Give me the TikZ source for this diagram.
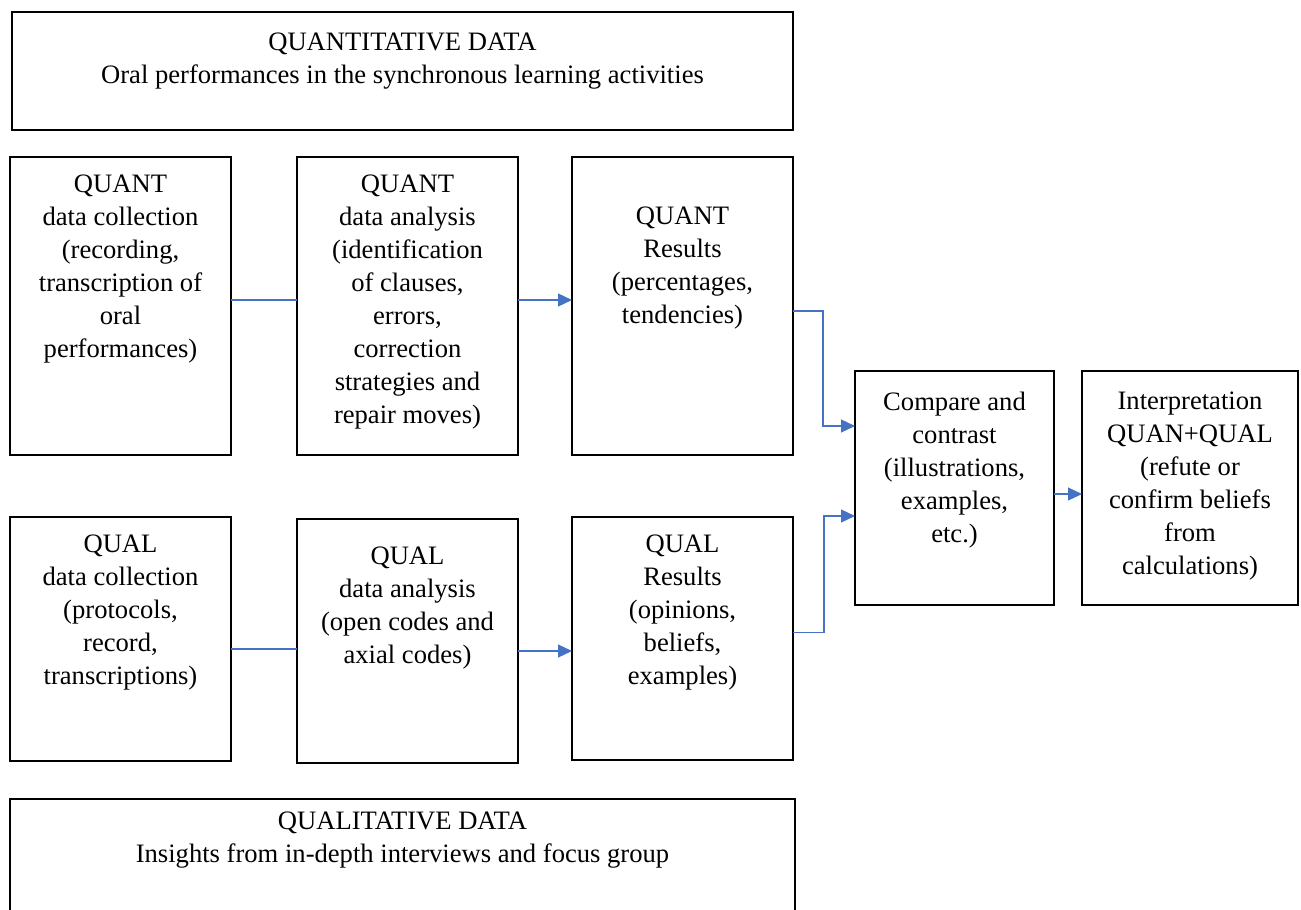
\documentclass[tikz,border=0pt]{standalone}
\usepackage{fontspec}
\setmainfont{Liberation Serif}
\usetikzlibrary{arrows.meta, positioning}
\definecolor{linkblue}{RGB}{68,114,196}

\begin{document}
\begin{tikzpicture}[
  x=0.5pt, y=-0.5pt,
  node distance = 31pt and 33pt,
  box/.style  = {rectangle, draw=black, line width=1.3pt, inner sep=0pt, outer sep=0pt,
                 minimum width=110.5pt, minimum height=149pt},
  txt/.style  = {anchor=north, align=center, inner sep=0pt,
                 font=\fontsize{13.3}{16.5}\selectfont},
  link/.style = {draw=linkblue, line width=0.6pt},
  arr/.style  = {link, -{Triangle[length=7pt, width=6.5pt]}}
]
\useasboundingbox (0,0) rectangle (1301,910);

% Data strands
\node[box, anchor=north west, minimum width=390.5pt, minimum height=59pt,
  label={[txt, yshift=-10.1pt]north:{QUANTITATIVE DATA\\Oral performances in the synchronous learning activities}}]
  (quantdata) at (12,12) {};
\node[box, anchor=north west, minimum width=392.5pt, minimum height=80pt,
  label={[txt, yshift=-6.1pt]north:{QUALITATIVE DATA\\Insights from in-depth interviews and focus group}}]
  (qualdata) at (10,799) {};

% Quantitative row
\node[box, anchor=north west,
  label={[txt, yshift=-8.6pt]north:{QUANT\\data collection\\(recording,\\transcription of\\oral\\performances)}}]
  (quantcol) at (10,157) {};
\node[box, right=of quantcol,
  label={[txt, yshift=-8.6pt]north:{QUANT\\data analysis\\(identification\\of clauses,\\errors,\\correction\\strategies and\\repair moves)}}]
  (quantana) {};
\node[box, right=27pt of quantana,
  label={[txt, yshift=-24.6pt]north:{QUANT\\Results\\(percentages,\\tendencies)}}]
  (quantres) {};

% Qualitative row
\node[box, minimum height=122pt, below=of quantcol,
  label={[txt, yshift=-8.6pt]north:{QUAL\\data collection\\(protocols,\\record,\\transcriptions)}}]
  (qualcol) {};
\node[box, minimum height=122pt, below=32pt of quantana,
  label={[txt, yshift=-13.6pt]north:{QUAL\\data analysis\\(open codes and\\axial codes)}}]
  (qualana) {};
\node[box, minimum height=121.5pt, below=of quantres,
  label={[txt, yshift=-8.6pt]north:{QUAL\\Results\\(opinions,\\beliefs,\\examples)}}]
  (qualres) {};

% Merging
\node[box, anchor=north west, minimum width=99.5pt, minimum height=117pt,
  label={[txt, yshift=-10.1pt]north:{Compare and\\contrast\\(illustrations,\\examples,\\etc.)}}]
  (compare) at (855,371) {};
\node[box, minimum width=108pt, minimum height=117pt, right=14pt of compare,
  label={[txt, yshift=-10.1pt]north:{Interpretation\\QUAN+QUAL\\(refute or\\confirm beliefs\\from\\calculations)}}]
  (interp) {};

\draw[link] ([yshift=3pt]quantcol.east) -- ([yshift=3pt]quantana.west);
\draw[arr] ([yshift=3pt]quantana.east) -- ([yshift=3pt]quantres.west);
\draw[link] ([yshift=-5pt]qualcol.east) -- ([yshift=-5pt]qualcol.east -| qualana.west);
\draw[arr] ([yshift=-5pt]qualana.east) -- ([yshift=-5pt]qualana.east -| qualres.west);
\draw[arr] ([yshift=-2.5pt]quantres.east) -- ++(15pt,0) |- ([yshift=31pt]compare.west);
\draw[arr] ([yshift=3pt]qualres.east) -- ++(15.5pt,0) |- ([yshift=-14pt]compare.west);
\draw[arr] ([yshift=-3pt]compare.east) -- ([yshift=-3pt]interp.west);

\end{tikzpicture}
\end{document}
